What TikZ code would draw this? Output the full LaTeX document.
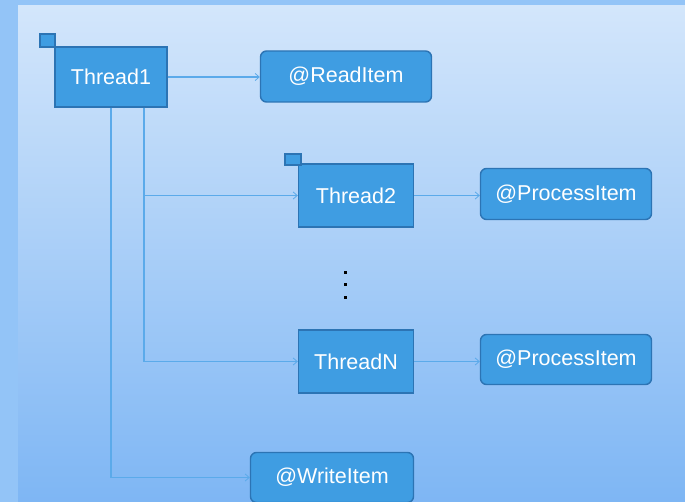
\documentclass[tikz,border=0pt]{standalone}
\usepackage{fontspec}
\setmainfont{Liberation Sans}
\usetikzlibrary{arrows.meta}
\definecolor{boxfill}{HTML}{3F9DE2}
\definecolor{boxline}{HTML}{2C74B4}
\definecolor{conn}{HTML}{5BAAEA}
\definecolor{bgtop}{HTML}{D3E6FB}
\definecolor{bgbot}{HTML}{7EB6F4}
\definecolor{outer}{HTML}{93C4F7}
\begin{document}
\begin{tikzpicture}[x=1pt,y=-1pt,
  thr/.style={draw=boxline,fill=boxfill,line width=1.4pt,inner sep=0pt,text=white,
    font=\fontsize{21.5}{25}\selectfont},
  act/.style={thr,rounded corners=6pt},
  flag/.style={draw=boxline,fill=boxfill,line width=1.2pt,inner sep=0pt},
  dotmark/.style={fill=black,rectangle,minimum size=3.4pt,inner sep=0pt},
  conline/.style={draw=conn,line width=1.2pt},
  arr/.style={conline,-{Straight Barb[length=4pt,width=7pt,line width=0.8pt]}}
]
\useasboundingbox (0,0) rectangle (685,502);
\fill[outer] (0,0) rectangle (685,502);
\shade[top color=bgtop,bottom color=bgbot] (18,6) rectangle (685,502);

\node[thr,minimum width=112pt,minimum height=60pt] (t1) at (111,77) {Thread1};
\node[flag,minimum width=15pt,minimum height=13pt] (f1) at (47.5,40.5) {};
\node[act,minimum width=171pt,minimum height=51pt] (read) at (346,76.5) {@ReadItem};
\node[thr,minimum width=115pt,minimum height=63pt] (t2) at (356,195.5) {Thread2};
\node[flag,minimum width=16pt,minimum height=11pt] (f2) at (293,159.5) {};
\node[act,minimum width=171pt,minimum height=51pt] (p1) at (566,194) {@ProcessItem};
\node[thr,minimum width=115pt,minimum height=63pt] (tn) at (356,361.5) {ThreadN};
\node[act,minimum width=171pt,minimum height=50pt] (p2) at (566,359.5) {@ProcessItem};
\node[act,minimum width=163pt,minimum height=50pt] (write) at (332,477.5) {@WriteItem};
\node[dotmark] (d1) at (345.5,272.5) {};
\node[dotmark] (d2) at (345.5,284.5) {};
\node[dotmark] (d3) at (345.5,297.5) {};

\draw[arr] (t1.east) -- (t1.east -| read.west);
\draw[arr] (t1.south) |- (write.west);
\coordinate (b) at ([xshift=33pt]t1.south);
\draw[arr] (b) |- (tn.west);
\draw[arr] (b |- t2.west) -- (t2.west);
\draw[arr] (t2.east) -- (t2.east -| p1.west);
\draw[arr] (tn.east) -- (tn.east -| p2.west);
\end{tikzpicture}
\end{document}
